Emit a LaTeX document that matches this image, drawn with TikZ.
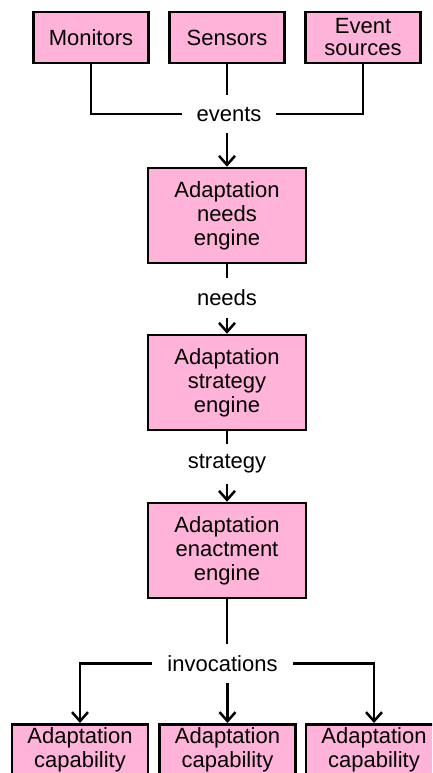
\documentclass[tikz,border=0pt]{standalone}
\usepackage{fontspec}
\setmainfont{Liberation Sans}
\usetikzlibrary{arrows.meta}
\definecolor{boxpink}{RGB}{255,179,217}
\tikzset{
  blk/.style={draw=black, fill=boxpink, line width=2.5pt, inner sep=0pt,
    align=center, font=\fontsize{22}{24}\selectfont},
  topblk/.style={blk, minimum width=115pt, minimum height=51pt},
  midblk/.style={blk, minimum width=158pt, minimum height=95pt},
  lowblk/.style={blk, minimum width=136pt, inner ysep=3pt, anchor=north},
  lbl/.style={inner sep=0pt, font=\fontsize{22}{24}\selectfont},
  wire/.style={line width=2.5pt},
  flow/.style={wire, -{Straight Barb[length=9pt,width=16pt,line width=2.5pt]}}
}
\begin{document}
\begin{tikzpicture}[x=1pt,y=-1pt]
  \useasboundingbox (0,0) rectangle (432,773);
  \clip (0,0) rectangle (432,773);

  % sources of events
  \node[topblk] (mon) at (91,37.5) {Monitors};
  \node[topblk] (sen) at (227,37.5) {Sensors};
  \node[topblk] (evs) at (363,37.5) {Event\\[-2pt]sources};

  % engines
  \node[midblk] (needs) at (227,215.5) {Adaptation\\needs\\engine};
  \node[midblk] (strat) at (227,382.5) {Adaptation\\strategy\\engine};
  \node[midblk] (enact) at (227,550.5) {Adaptation\\enactment\\engine};

  % capabilities
  \node[lowblk] (cap1) at (80,723) {Adaptation\\capability\\\strut};
  \node[lowblk] (cap2) at (227.5,723) {Adaptation\\capability\\\strut};
  \node[lowblk] (cap3) at (374,723) {Adaptation\\capability\\\strut};

  % connector labels
  \node[lbl, minimum width=94pt, minimum height=38pt] (lev) at (229,114) {events};
  \node[lbl, minimum height=40pt] (lne) at (227,298) {needs};
  \node[lbl, minimum height=40pt] (lst) at (227,464) {strategy};
  \node[lbl, minimum width=141pt, minimum height=39pt] (lin) at (222.5,663.5) {invocations};

  % connectors
  \draw[wire] (mon.south) |- (lev.west);
  \draw[wire] (evs.south) |- (lev.east);
  \draw[wire] (sen.south) -- (sen.south |- lev.north);
  \draw[flow] (needs.north |- lev.south) -- (needs.north);

  \draw[wire] (needs.south) -- (lne.north);
  \draw[flow] (lne.south) -- (strat.north);

  \draw[wire] (strat.south) -- (lst.north);
  \draw[flow] (lst.south) -- (enact.north);

  \draw[wire] (enact.south) -- (enact.south |- lin.north);
  \draw[flow] (lin.west) -| (cap1.north);
  \draw[flow] (lin.east) -| (cap3.north);
  \draw[flow] (cap2.north |- lin.south) -- (cap2.north);
\end{tikzpicture}
\end{document}
